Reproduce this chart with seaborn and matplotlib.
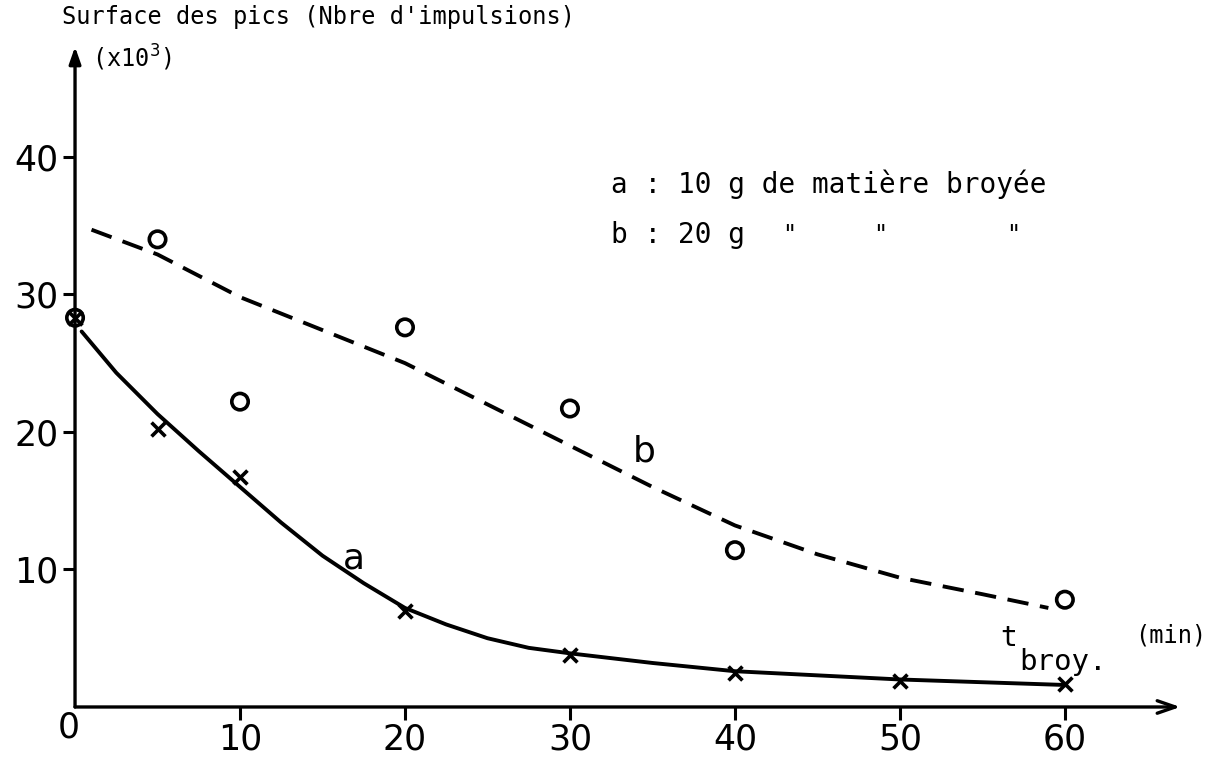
import matplotlib
matplotlib.use("Agg")
import matplotlib.pyplot as plt
import seaborn as sns

# points
pts_a_x = [0, 5, 10, 20, 30, 40, 50, 60]
pts_a_y = [28.3, 20.2, 16.7, 7.0, 3.8, 2.5, 1.9, 1.7]
pts_b_x = [0, 5, 10, 20, 30, 40, 60]
pts_b_y = [28.3, 34.0, 22.2, 27.6, 21.7, 11.4, 7.8]

# courbes tracées à la main (lues point par point)
curve_a_x = [0.4, 2.5, 5, 7.5, 10, 12.5, 15, 17.5, 20, 22.5, 25, 27.5, 30, 35, 40, 45, 50, 55, 60]
curve_a_y = [27.3, 24.3, 21.3, 18.6, 16.0, 13.4, 11.0, 9.0, 7.2, 6.0, 5.0, 4.3, 3.9, 3.2, 2.6, 2.3, 2.0, 1.8, 1.6]
curve_b_x = [1, 5, 10, 15, 20, 25, 30, 35, 40, 45, 50, 55, 59]
curve_b_y = [34.7, 32.9, 29.8, 27.4, 25.0, 22.0, 19.0, 16.0, 13.2, 11.1, 9.4, 8.2, 7.2]

x_ticks = [10, 20, 30, 40, 50, 60]
y_ticks = [10, 20, 30, 40]

sns.set_style("white")
plt.rcParams["text.color"] = "black"
plt.rcParams["xtick.color"] = "black"
plt.rcParams["ytick.color"] = "black"
mono = "DejaVu Sans Mono"

fig = plt.figure(figsize=(12.2, 7.58), dpi=100)
ax = fig.add_axes([0.0615, 0.0673, 0.906, 0.871])

sns.lineplot(x=curve_a_x, y=curve_a_y, ax=ax, color="black", linewidth=2.8)
sns.lineplot(x=curve_b_x, y=curve_b_y, ax=ax, color="black", linewidth=2.8)
ax.lines[1].set_dashes((5.5, 3.0))

sns.scatterplot(x=pts_b_x, y=pts_b_y, ax=ax, marker="o", s=140,
                facecolor="none", edgecolor="black", linewidth=2.6)
sns.scatterplot(x=pts_a_x, y=pts_a_y, ax=ax, marker="x", s=100,
                color="black", linewidth=2.6)
for c in ax.collections:
    c.set_clip_on(False)

ax.set_xlim(0, 67)
ax.set_ylim(0, 48)
for s in ax.spines.values():
    s.set_visible(False)

# axes avec flèches
ax.annotate("", xy=(0, 48), xytext=(0, 0), xycoords="data",
            arrowprops=dict(arrowstyle="-|>,head_length=1.0,head_width=0.35",
                            color="black", lw=2.4, shrinkA=0, shrinkB=0),
            annotation_clip=False)
ax.annotate("", xy=(67, 0), xytext=(0, 0), xycoords="data",
            arrowprops=dict(arrowstyle="->,head_length=1.3,head_width=0.45",
                            color="black", lw=2.4, shrinkA=0, shrinkB=0),
            annotation_clip=False)

ax.set_xticks(x_ticks)
ax.set_yticks(y_ticks)
ax.tick_params(axis="both", direction="out", length=9, width=2.2,
               bottom=True, left=True, pad=3, labelsize=25)
ax.tick_params(axis="x", pad=2)
ax.text(-0.4, -1.5, "0", fontsize=25, ha="center", va="center")

ax.text(-0.8, 50.2, "Surface des pics (Nbre d'impulsions)", family=mono,
        fontsize=17, ha="left", va="center", clip_on=False)
ax.text(1.0, 47.2, "(x10$^3$)", family=mono, fontsize=17,
        ha="left", va="center")

ax.text(32.5, 38.0, "a : 10 g de matière broyée", family=mono, fontsize=20,
        ha="left", va="center")
ax.text(32.5, 34.3, "b : 20 g", family=mono, fontsize=20, ha="left", va="center")
for qx in [43.3, 48.8, 56.9]:
    ax.text(qx, 34.3, '"', family=mono, fontsize=17, ha="center", va="center")

ax.text(16.9, 10.8, "a", fontsize=26, ha="center", va="center")
ax.text(34.5, 18.6, "b", fontsize=26, ha="center", va="center")

ax.text(56.6, 5.0, "t", family=mono, fontsize=20, ha="center", va="center")
ax.text(59.9, 3.3, "broy.", family=mono, fontsize=21, ha="center", va="center")
ax.text(66.4, 5.2, "(min)", family=mono, fontsize=17, ha="center", va="center",
        clip_on=False)

fig.savefig("out.png", dpi=100)
